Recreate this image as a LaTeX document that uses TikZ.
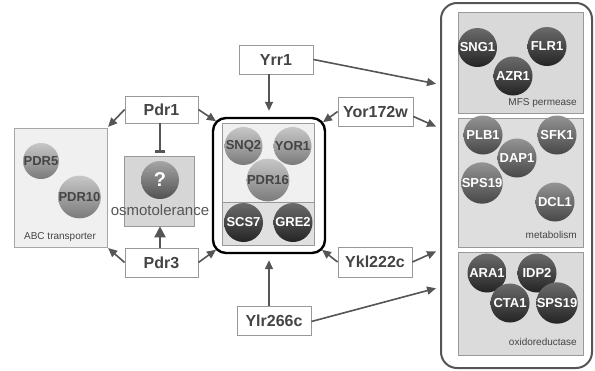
\documentclass[tikz,border=0pt]{standalone}
\usepackage{fontspec}
\setmainfont{Liberation Sans}
\usetikzlibrary{arrows.meta,calc}

\definecolor{ink}{HTML}{444444}
\definecolor{wire}{HTML}{555555}
\definecolor{frame}{HTML}{999999}

\tikzset{
  gene/.style={draw=frame, fill=white, line width=0.8pt, minimum width=74pt,
    minimum height=29pt, inner sep=0pt, text=ink,
    font=\fontsize{16}{18}\selectfont\bfseries},
  group/.style={draw=frame, line width=0.8pt, inner sep=0pt},
  ball/.style={circle, inner sep=0pt, minimum size=39pt,
    font=\fontsize{13}{15}\selectfont\bfseries},
  lightball/.style={ball, top color=black!22, bottom color=black!52, text=ink},
  midball/.style={ball, top color=black!42, bottom color=black!72, text=white},
  darkball/.style={ball, top color=black!58, bottom color=black!86, text=white},
  caption/.style={text=ink, font=\fontsize{10}{12}\selectfont, inner sep=0pt},
  arr/.style={draw=wire, line width=1.6pt,
    -{Triangle[length=9pt,width=8pt]}, shorten >=1pt},
}

\begin{document}
\begin{tikzpicture}[x=1pt,y=-1pt]
\useasboundingbox (0,0) rectangle (595,370);

% ABC transporter group
\node[group, fill=black!6, draw=black!35, minimum width=93pt, minimum height=119pt] (abc) at (60.5,187.5) {};
\node[lightball, minimum size=36pt] (pdr5) at (41,161) {PDR5};
\node[lightball, minimum size=41pt] (pdr10) at (79.5,197) {PDR10};
\node[caption] (abclab) at (60,237) {ABC transporter};

% osmotolerance
\node[group, fill=black!16, minimum width=70pt, minimum height=70pt] (osmo) at (159,191) {};
\node[ball, minimum size=38pt, top color=black!35, bottom color=black!68, text=white,
  font=\fontsize{20}{22}\selectfont\bfseries] (q) at (160,180) {?};
\node[text=wire, font=\fontsize{15}{17}\selectfont, inner sep=0pt] (osmolab) at (160,210) {osmotolerance};

% central group
\node[draw=black, line width=2.4pt, rounded corners=13pt, minimum width=112pt,
  minimum height=135pt, fill=white] (core) at (269,185.5) {};
\node[group, fill=black!6, minimum width=92pt, minimum height=79pt] (coreup) at (268,162.5) {};
\node[group, fill=black!12, minimum width=92pt, minimum height=43pt] (corelow) at (268,223.5) {};
\node[lightball, minimum size=38pt] (snq2) at (243.5,146) {SNQ2};
\node[lightball, minimum size=38pt] (yor1) at (292.5,146) {YOR1};
\node[lightball, minimum size=40pt] (pdr16) at (268,180) {PDR16};
\node[darkball] (scs7) at (243.5,222.5) {SCS7};
\node[darkball] (gre2) at (293,222.5) {GRE2};

% right-hand panel
\node[draw=wire, line width=2pt, rounded corners=16pt, minimum width=151pt,
  minimum height=365pt] (panel) at (516.5,185.5) {};
\node[group, fill=black!15, minimum width=125pt, minimum height=101pt] (mfs) at (520.5,62.5) {};
\node[group, fill=black!13, minimum width=125pt, minimum height=129pt] (meta) at (520.5,182.5) {};
\node[group, fill=black!14, minimum width=125pt, minimum height=103pt] (oxi) at (520.5,303.5) {};

\node[darkball] (sng1) at (477.5,47.5) {SNG1};
\node[darkball] (flr1) at (547,46.5) {FLR1};
\node[darkball] (azr1) at (513,76) {AZR1};
\node[caption, anchor=east] (mfslab) at (577,103) {MFS permease};

\node[midball] (plb1) at (483,135) {PLB1};
\node[midball] (sfk1) at (557,135) {SFK1};
\node[midball] (dap1) at (517,158) {DAP1};
\node[midball] (sps19a) at (482,183) {SPS19};
\node[midball] (dcl1) at (555,202) {DCL1};
\node[caption, anchor=east] (metalab) at (577,235) {metabolism};

\node[darkball] (ara1) at (487,273) {ARA1};
\node[darkball] (idp2) at (537,273) {IDP2};
\node[darkball] (cta1) at (510,303) {CTA1};
\node[darkball] (sps19b) at (557,303) {SPS19};
\node[caption, anchor=east] (oxilab) at (577,342) {oxidoreductase};

% regulators
\node[gene] (yrr1) at (276,59.5) {Yrr1};
\node[gene, minimum width=73pt, minimum height=27pt] (pdr1) at (161.5,109.5) {Pdr1};
\node[gene, minimum width=73pt] (pdr3) at (161.5,262.5) {Pdr3};
\node[gene, minimum width=75pt] (yor) at (375.5,111.5) {Yor172w};
\node[gene, minimum height=30pt] (ykl) at (375,262) {Ykl222c};
\node[gene] (ylr) at (274,320.5) {Ylr266c};

% arrow targets on the panel edge
\coordinate (t1) at (437,84);
\coordinate (t2) at (437,127);
\coordinate (t3) at (437,251);
\coordinate (t4) at (437,288);

% connectors
\draw[arr] (pdr1.west) -- (abc.north east);
\draw[arr] (pdr3.west) -- (abc.south east);
\draw[arr] (pdr1.east) -- ($(core.north west)+(5,5)$);
\draw[arr] (pdr3.east) -- ($(core.south west)+(5,-5)$);
\draw[arr] (yor.west) -- ($(core.north east)+(-4,6)$);
\draw[arr] (ykl.west) -- ($(core.south east)+(-5,-5)$);
\draw[arr] (yrr1.south -| core.north) -- ($(core.north)+(0,-5)$);
\draw[arr] (ylr.north -| core.south) -- ($(core.south)+(0,5)$);
\draw[draw=wire, line width=2.2pt, -{Bar[width=10pt,line width=2.4pt]}] (pdr1.south -| q) -- ($(osmo.north -| q)+(0,-3)$);
\draw[draw=wire, line width=2.4pt, -{Triangle[length=11pt,width=11pt]}] (pdr3.north -| q) -- (osmo.south -| q);

\draw[arr] (yrr1.east) -- (t1);
\draw[arr] ($(yor.east)+(0,5)$) -- (t2);
\draw[arr] (ykl.east) -- (t3);
\draw[arr] ($(ylr.east)+(0,1)$) -- (t4);
\end{tikzpicture}
\end{document}
